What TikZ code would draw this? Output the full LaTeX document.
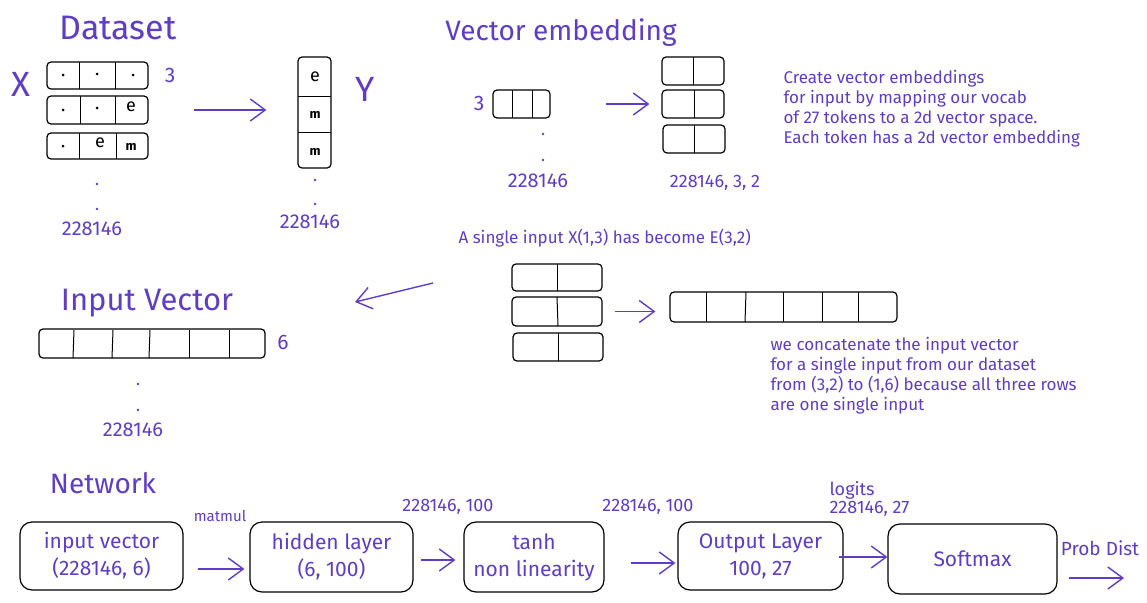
\documentclass[tikz,border=0pt]{standalone}
\usepackage{fontspec}
\setmainfont{Fira Sans}
\usetikzlibrary{arrows.meta, calc}
\definecolor{ink}{RGB}{95,61,196}

\tikzset{
  cell/.style={draw=black, line width=1.2pt, rounded corners=4pt, inner sep=0pt},
  netbox/.style={draw=black, line width=1.2pt, rounded corners=12pt, inner sep=0pt,
    text=ink, align=center, font=\fontsize{21}{27}\selectfont},
  heading/.style={text=ink, font=\fontsize{30}{34}\selectfont},
  note/.style={text=ink, font=\fontsize{18}{20}\selectfont},
  para/.style={text=ink, align=left, anchor=west, font=\fontsize{17}{20}\selectfont},
  glyph/.style={text=black, inner sep=0pt},
  flow/.style={draw=ink, line width=1.4pt, -{Straight Barb[length=15pt,width=22pt,line width=1.4pt]}},
}

\begin{document}
\begin{tikzpicture}[x=1pt, y=-1pt]
    \fill[white] (0,0) rectangle (1147,602);
    \useasboundingbox (0,0) rectangle (1147,602);

    % Dataset
    \node[heading, font=\fontsize{34}{38}\selectfont] (dstitle) at (118,28) {Dataset};
    \node[heading, font=\fontsize{35}{38}\selectfont] (xlab) at (21,84) {X};
    \node[cell, minimum width=101pt, minimum height=27pt] (x1) at (97.5,75.5) {};
    \node[cell, minimum width=101pt, minimum height=28pt] (x2) at (97.5,110) {};
    \node[cell, minimum width=101pt, minimum height=26pt] (x3) at (97.5,146) {};
    \draw[line width=1pt] (79,62) -- (79,89);
    \draw[line width=1pt] (115,62) -- (115,89);
    \draw[line width=1pt] (80,96) -- (80,124);
    \draw[line width=1pt] (115,96) -- (115,124);
    \draw[line width=1pt] (79,133) -- (79,159);
    \draw[line width=1pt] (116,133) -- (116,159);
    \fill (63,75) circle (1.5pt);
    \fill (97,74) circle (1.5pt);
    \fill (133,75) circle (1.5pt);
    \fill (63,110) circle (1.5pt);
    \fill (97,108) circle (1.5pt);
    \node[glyph, font=\fontsize{18}{18}\selectfont] (c23) at (131,107) {e};
    \fill (63,146) circle (1.5pt);
    \node[glyph, font=\fontsize{18}{18}\selectfont] (c32) at (100,143) {e};
    \node[glyph, font=\fontsize{13}{13}\selectfont\bfseries] (c33) at (131,147) {m};
    \node[note, font=\fontsize{21}{21}\selectfont] (xdim) at (170,75) {3};
    \fill[ink] (97,184) circle (1.3pt);
    \fill[ink] (97,209) circle (1.3pt);
    \node[note, font=\fontsize{20}{20}\selectfont] (xrows) at (92,229) {228146};

    \node[cell, minimum width=33pt, minimum height=111pt] (ycol) at (314.5,112.5) {};
    \draw[line width=1pt] (298,96) -- (331,96);
    \draw[line width=1pt] (298,132) -- (331,132);
    \node[glyph, font=\fontsize{18}{18}\selectfont] (y1) at (315,77) {e};
    \node[glyph, font=\fontsize{13}{13}\selectfont\bfseries] (y2) at (315,115) {m};
    \node[glyph, font=\fontsize{13}{13}\selectfont\bfseries] (y3) at (315,152) {m};
    \node[heading, font=\fontsize{35}{38}\selectfont] (ylab) at (365,89) {Y};
    \fill[ink] (315,180) circle (1.3pt);
    \fill[ink] (315,204) circle (1.3pt);
    \node[note, font=\fontsize{20}{20}\selectfont] (yrows) at (310,222) {228146};
    \draw[flow, shorten <=45pt, shorten >=31pt] (x2.east) -- (x2.east -| ycol.west);

    % Vector embedding
    \node[heading, font=\fontsize{28}{32}\selectfont] (vetitle) at (561,33) {Vector embedding};
    \node[note, font=\fontsize{21}{21}\selectfont] (edim) at (479,103) {3};
    \node[cell, minimum width=57pt, minimum height=28pt] (e0) at (521.5,104) {};
    \draw[line width=1pt] (512,90) -- (512,118);
    \draw[line width=1pt] (532,90) -- (532,118);
    \fill[ink] (543,134) circle (1.3pt);
    \fill[ink] (543,160) circle (1.3pt);
    \node[note, font=\fontsize{20}{20}\selectfont] (erows) at (538,181) {228146};

    \node[cell, minimum width=62pt, minimum height=28pt] (e1) at (693,71) {};
    \node[cell, minimum width=62pt, minimum height=28pt] (e2) at (693,104) {};
    \node[cell, minimum width=62pt, minimum height=28pt] (e3) at (694,139) {};
    \draw[line width=1pt] (693,57) -- (693,85);
    \draw[line width=1pt] (694,90) -- (694,118);
    \draw[line width=1pt] (694,125) -- (694,153);
    \node[note] (eshape) at (715,183) {228146, 3, 2};
    \draw[flow, shorten <=55pt, shorten >=12pt] (e0.east) -- (e0.east -| e2.west);
    \node[para] (etext) at (780,109) {Create vector embeddings\\for input by mapping our vocab\\of 27 tokens to a 2d vector space.\\Each token has a 2d vector embedding};

    % Concatenation
    \node[para] (single) at (455,238) {A single input X(1,3) has become E(3,2)};
    \node[cell, minimum width=90pt, minimum height=27pt] (m1) at (557,277.5) {};
    \node[cell, minimum width=90pt, minimum height=29pt] (m2) at (557,311.5) {};
    \node[cell, minimum width=90pt, minimum height=28pt] (m3) at (558,347) {};
    \draw[line width=1pt] (557,264) -- (557,291);
    \draw[line width=1pt] (557,297) -- (558,326);
    \draw[line width=1pt] (558,333) -- (558,361);
    \node[cell, minimum width=227pt, minimum height=30pt] (cat) at (783.5,307) {};
    \draw[line width=1pt] (706,292) -- (706,322);
    \draw[line width=1pt] (746,292) -- (745,322);
    \draw[line width=1pt] (783,292) -- (783,322);
    \draw[line width=1pt] (822,292) -- (822,322);
    \draw[line width=1pt] (858,292) -- (858,322);
    \draw[flow, shorten <=12pt, shorten >=14pt] (m2.east) -- (m2.east -| cat.west);
    \node[para] (ctext) at (767,376) {we concatenate the input vector\\for a single input from our dataset\\from (3,2) to (1,6) because all three rows\\are one single input};
    \coordinate (tail) at (433,283);
    \coordinate (head) at (355,302);
    \draw[flow] (tail) -- (head);

    % Input Vector
    \node[heading, font=\fontsize{31}{34}\selectfont] (ivtitle) at (147,303) {Input Vector};
    \node[cell, minimum width=226pt, minimum height=29pt] (iv) at (152,343.5) {};
    \draw[line width=1pt] (74,330) -- (73,358);
    \draw[line width=1pt] (113,330) -- (112,358);
    \draw[line width=1pt] (150,330) -- (149,358);
    \draw[line width=1pt] (189,330) -- (189,358);
    \draw[line width=1pt] (229,330) -- (229,358);
    \node[note, font=\fontsize{21}{21}\selectfont] (ivdim) at (283,342) {6};
    \fill[ink] (138,384) circle (1.3pt);
    \fill[ink] (138,410) circle (1.3pt);
    \node[note, font=\fontsize{20}{20}\selectfont] (ivrows) at (133,430) {228146};

    % Network
    \node[heading, font=\fontsize{28}{32}\selectfont] (nettitle) at (103,483) {Network};
    \node[netbox, minimum width=163pt, minimum height=68pt] (inp) at (101.5,556) {input vector\\(228146, 6)};
    \node[netbox, minimum width=163pt, minimum height=70pt] (hid) at (331.5,557) {hidden layer\\(6, 100)};
    \node[netbox, minimum width=140pt, minimum height=70pt] (tnh) at (534,557) {tanh\\non linearity};
    \node[netbox, minimum width=165pt, minimum height=68pt] (outl) at (760.5,556) {Output Layer\\100, 27};
    \node[netbox, minimum width=169pt, minimum height=70pt] (smx) at (972.5,559) {Softmax};
    \node[note, font=\fontsize{15}{15}\selectfont] (matmul) at (220,516) {matmul};
    \node[note] (hshape) at (448,507) {228146, 100};
    \node[note] (tshape) at (648,507) {228146, 100};
    \node[note, anchor=west] (logits) at (826,490) {logits};
    \node[note, anchor=west] (oshape) at (826,509) {228146, 27};
    \node[note, font=\fontsize{19}{19}\selectfont] (prob) at (1100,548) {Prob Dist};
    \coordinate (pend) at (1124,578);
    \draw[flow, shorten <=14pt, shorten >=5pt] ([yshift=-13pt]inp.east) -- ([yshift=-13pt]inp.east -| hid.west);
    \draw[flow, shorten <=7pt, shorten >=8pt] ([yshift=-3pt]hid.east) -- ([yshift=-3pt]hid.east -| tnh.west);
    \draw[flow, shorten <=26pt, shorten >=2pt] ([yshift=-6pt]tnh.east) -- ([yshift=-6pt]tnh.east -| outl.west);
    \draw[flow, shorten <=-5pt] ([yshift=-1pt]outl.east) -- ([yshift=-1pt]outl.east -| smx.west);
    \draw[flow, shorten <=11pt] ([yshift=-19pt]smx.east) -- (pend);
\end{tikzpicture}
\end{document}
